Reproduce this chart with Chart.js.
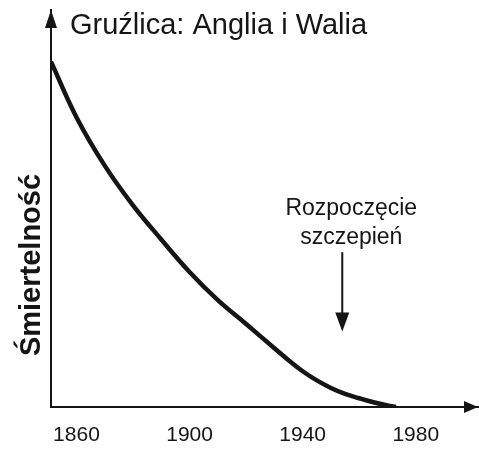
<!DOCTYPE html>
<html>
<head>
<meta charset="utf-8">
<script src="https://cdn.jsdelivr.net/npm/chart.js@4/dist/chart.umd.min.js"></script>
<style>
  html, body { margin: 0; padding: 0; background: #fff; }
  #wrap { width: 479px; height: 452px; }
</style>
</head>
<body>
<div id="wrap"><canvas id="tbChart"></canvas></div>
<script>
// Data (mortality on an arbitrary 0-100 scale)
const years = [1851, 1860, 1870, 1880, 1890, 1900, 1910, 1920, 1930, 1935, 1940, 1945, 1950, 1955, 1960, 1965, 1970, 1973];
const mortality = [87, 73, 60.8, 50.8, 42.2, 34, 26.9, 20.9, 14.8, 11.8, 9.0, 6.7, 4.8, 3.3, 2.2, 1.2, 0.4, 0];
const tickYears = [1860, 1900, 1940, 1980];

const titleText = 'Gruźlica: Anglia i Walia';
const yLabel = 'Śmiertelność';
const noteLines = ['Rozpoczęcie', 'szczepień'];
const vaccineYear = 1954;

const FONT = '"Liberation Sans", Arial, Helvetica, sans-serif';
const INK = '#151515';

// arrows, title and annotation drawn on top of the chart
const decorations = {
    id: 'decorations',
    afterDraw(chart) {
        const ctx = chart.ctx;
        const area = chart.chartArea;
        const xs = chart.scales.x;
        const ys = chart.scales.y;
        ctx.save();
        ctx.fillStyle = INK;
        ctx.strokeStyle = INK;

        // axis arrowheads
        ctx.beginPath();
        ctx.moveTo(area.left, area.top);
        ctx.lineTo(area.left - 6, area.top + 18);
        ctx.lineTo(area.left + 6, area.top + 18);
        ctx.closePath();
        ctx.fill();

        ctx.beginPath();
        ctx.moveTo(area.right, area.bottom);
        ctx.lineTo(area.right - 14, area.bottom - 6);
        ctx.lineTo(area.right - 14, area.bottom + 6);
        ctx.closePath();
        ctx.fill();

        // title
        ctx.font = '29px ' + FONT;
        ctx.textAlign = 'left';
        ctx.textBaseline = 'alphabetic';
        ctx.fillText(titleText, area.left + 19, 34);

        // y label
        ctx.save();
        ctx.translate(32, 265);
        ctx.rotate(-Math.PI / 2);
        ctx.font = 'bold 29px ' + FONT;
        ctx.textAlign = 'center';
        ctx.textBaseline = 'middle';
        ctx.fillText(yLabel, 0, 0);
        ctx.restore();

        // vaccination note
        const ax = xs.getPixelForValue(vaccineYear);
        ctx.font = '23px ' + FONT;
        ctx.textAlign = 'center';
        ctx.fillText(noteLines[0], ax + 9, 215);
        ctx.fillText(noteLines[1], ax + 9, 244);

        const y0 = ys.getPixelForValue(39);
        const y1 = ys.getPixelForValue(19);
        ctx.lineWidth = 2;
        ctx.beginPath();
        ctx.moveTo(ax, y0);
        ctx.lineTo(ax, y1 - 16);
        ctx.stroke();
        ctx.beginPath();
        ctx.moveTo(ax, y1);
        ctx.lineTo(ax - 7, y1 - 19);
        ctx.lineTo(ax + 7, y1 - 19);
        ctx.closePath();
        ctx.fill();

        ctx.restore();
    }
};

const ctx = document.getElementById('tbChart').getContext('2d');
new Chart(ctx, {
    type: 'line',
    data: {
        datasets: [{
            data: years.map((yr, i) => ({ x: yr, y: mortality[i] })),
            borderColor: INK,
            borderWidth: 4.5,
            pointRadius: 0,
            tension: 0.4,
            fill: false
        }]
    },
    options: {
        responsive: true,
        maintainAspectRatio: false,
        animation: false,
        events: [],
        layout: { padding: { left: 51, right: 1, top: 10, bottom: 0 } },
        plugins: {
            legend: { display: false },
            tooltip: { enabled: false }
        },
        scales: {
            x: {
                type: 'linear',
                min: 1851,
                max: 2002,
                afterBuildTicks: axis => {
                    axis.ticks = tickYears.map(v => ({ value: v }));
                },
                afterFit: axis => { axis.height = 45; },
                grid: { display: false, drawTicks: false },
                border: { display: true, color: INK, width: 2 },
                ticks: {
                    padding: 16,
                    color: INK,
                    autoSkip: false,
                    maxRotation: 0,
                    font: { family: FONT, size: 21 },
                    callback: v => String(v)
                }
            },
            y: {
                min: 0,
                max: 100,
                grid: { display: false, drawTicks: false },
                border: { display: true, color: INK, width: 2 },
                ticks: { display: false }
            }
        }
    },
    plugins: [decorations]
});
</script>
</body>
</html>
